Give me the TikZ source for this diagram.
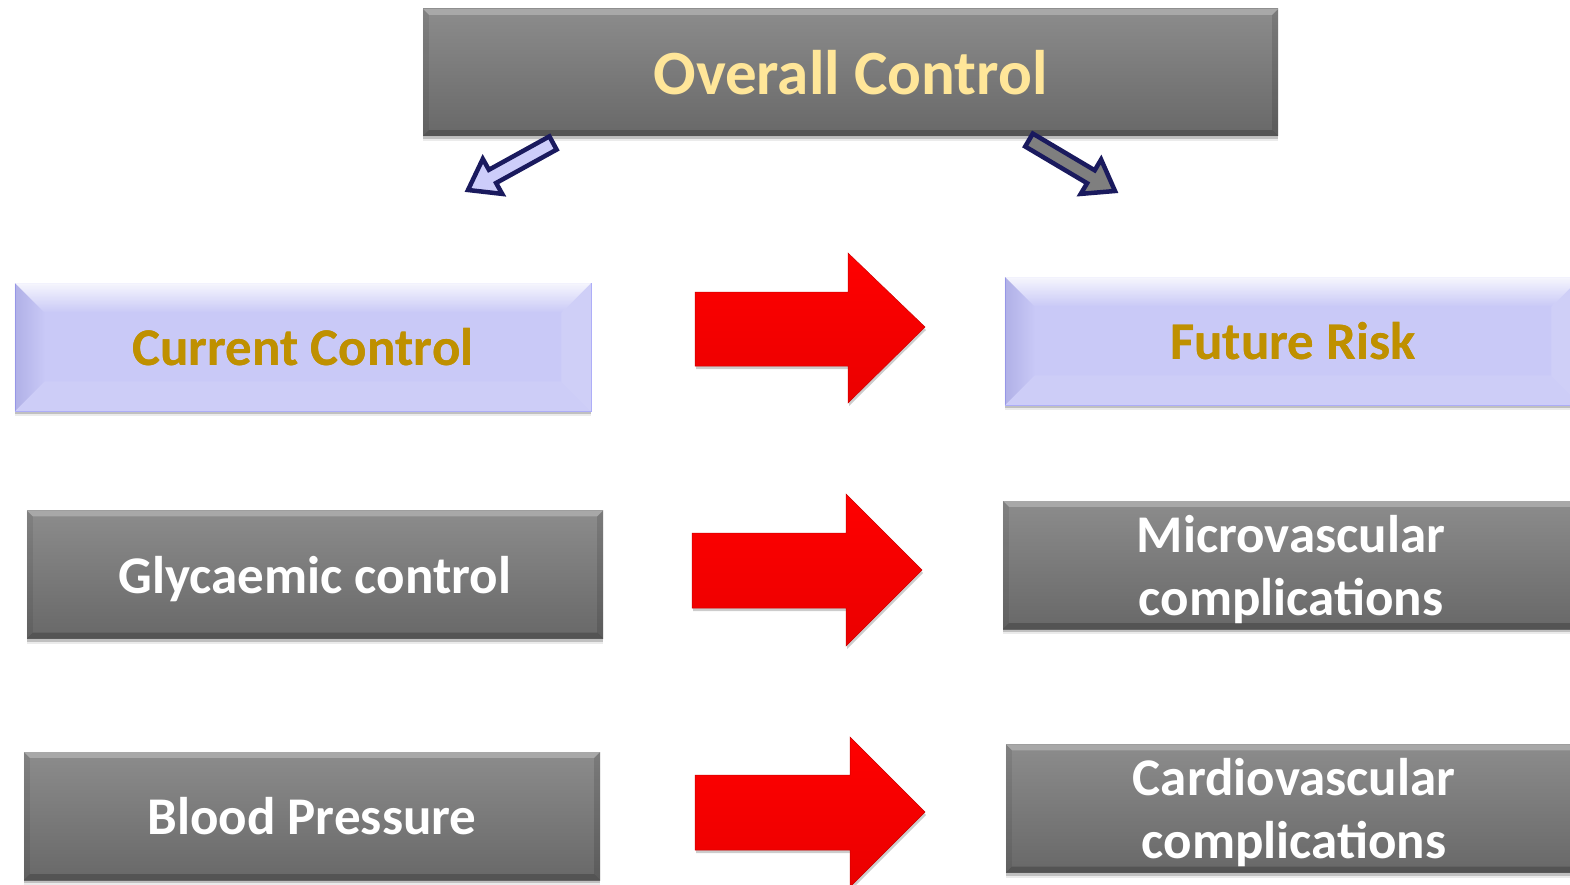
\documentclass[tikz,border=0pt]{standalone}
\usepackage{fontspec}
\setmainfont{Carlito}
\usetikzlibrary{shadows}
\definecolor{gtop}{HTML}{8C8C8C}
\definecolor{gbot}{HTML}{686868}
\definecolor{lav}{HTML}{C9C9F7}
\definecolor{gold}{HTML}{BF9000}
\definecolor{cream}{HTML}{FFE699}
\definecolor{navy}{HTML}{1A1A5E}
\definecolor{lavarrow}{HTML}{CDCDFA}
\definecolor{arrgray}{HTML}{7F7F7F}
\newcommand{\bevelbox}[7]{%
  \path[#4] (#1.north west) -- (#1.north east) -- ([xshift=-#2pt,yshift=-#3pt]#1.north east) -- ([xshift=#2pt,yshift=-#3pt]#1.north west) -- cycle;
  \path[#5] (#1.north west) -- ([xshift=#2pt,yshift=-#3pt]#1.north west) -- ([xshift=#2pt,yshift=#3pt]#1.south west) -- (#1.south west) -- cycle;
  \path[#6] (#1.north east) -- ([xshift=-#2pt,yshift=-#3pt]#1.north east) -- ([xshift=-#2pt,yshift=#3pt]#1.south east) -- (#1.south east) -- cycle;
  \path[#7] (#1.south west) -- ([xshift=#2pt,yshift=#3pt]#1.south west) -- ([xshift=-#2pt,yshift=#3pt]#1.south east) -- (#1.south east) -- cycle;
}
\begin{document}
\begin{tikzpicture}[x=1pt,y=-1pt,
  softshadow/.style={general shadow={shadow xshift=0pt, shadow yshift=-5pt, opacity=0.08, fill=black, scale=1.004},
                     general shadow={shadow xshift=0pt, shadow yshift=-3pt, opacity=0.18, fill=black}},
  boxbase/.style={rectangle, inner sep=0pt, minimum width=576pt, minimum height=128pt, align=center,
    text depth=0pt, font=\fontsize{53}{63}\selectfont\bfseries, softshadow},
  graybox/.style={boxbase, top color=gtop, bottom color=gbot, text=white},
  lavbox/.style={boxbase, fill=lav, draw=lav!85!blue, line width=0.5pt, text=gold},
  redarrow/.style={top color=red, bottom color=red!92!black, draw=red!80!black, line width=0.5pt,
    general shadow={shadow xshift=1pt, shadow yshift=-3pt, opacity=0.2, fill=black}},
  smallarrow/.style={draw=navy, line width=4.5pt, line join=miter}]
\clip (0,0) rectangle (1570,885);
\fill[white] (0,0) rectangle (1570,885);

% top box
\node[graybox, minimum width=855pt, minimum height=127pt, text=cream, font=\fontsize{63}{75}\selectfont\bfseries] (top) at (850.5,72.5) {Overall Control};
\bevelbox{top}{6}{6}{fill=white,opacity=0.25}{fill=black,opacity=0.08}{fill=black,opacity=0.12}{fill=black,opacity=0.2}

% small arrows
\path[smallarrow, fill=lavarrow] (556.6,149.6) -- (549.4,136.4) -- (488.9,169.8) -- (482.8,158.9) -- (468,190) -- (502.2,193.9) -- (496.1,183.0) -- cycle;
\path[smallarrow, fill=arrgray] (1025.2,146.5) -- (1032.8,133.6) -- (1094.7,170.3) -- (1101.1,159.5) -- (1115,191) -- (1080.7,193.9) -- (1087.1,183.2) -- cycle;

% lavender boxes
\node[lavbox] (cur) at (303,347) {Current Control};
\bevelbox{cur}{30}{30}{top color=white, bottom color=lav, opacity=0.85}{left color=blue!45!black, right color=lav, opacity=0.12}{fill=white,opacity=0.12}{fill=white,opacity=0.08}
\node[text=gold, font=\fontsize{53}{63}\selectfont\bfseries] at (cur) {Current Control};
\node[lavbox] (fut) at (1293,341) {Future Risk};
\bevelbox{fut}{30}{30}{top color=white, bottom color=lav, opacity=0.85}{left color=blue!45!black, right color=lav, opacity=0.12}{fill=white,opacity=0.12}{fill=white,opacity=0.08}
\node[text=gold, font=\fontsize{53}{63}\selectfont\bfseries] at (fut) {Future Risk};

% gray boxes
\node[graybox] (gly) at (315,574.5) {Glycaemic control};
\bevelbox{gly}{6}{6}{fill=white,opacity=0.25}{fill=black,opacity=0.08}{fill=black,opacity=0.12}{fill=black,opacity=0.2}
\node[graybox] (mic) at (1291,565) {Microvascular\\complications};
\bevelbox{mic}{6}{6}{fill=white,opacity=0.25}{fill=black,opacity=0.08}{fill=black,opacity=0.12}{fill=black,opacity=0.2}
\node[graybox] (bp) at (312,816) {Blood Pressure};
\bevelbox{bp}{6}{6}{fill=white,opacity=0.25}{fill=black,opacity=0.08}{fill=black,opacity=0.12}{fill=black,opacity=0.2}
\node[graybox] (car) at (1294,808.5) {Cardiovascular\\complications};
\bevelbox{car}{6}{6}{fill=white,opacity=0.25}{fill=black,opacity=0.08}{fill=black,opacity=0.12}{fill=black,opacity=0.2}

% red arrows
\path[redarrow] (695,292) -- (848,292) -- (848,253) -- (925,327) -- (848,403) -- (848,366) -- (695,366) -- cycle;
\path[redarrow] (692,533) -- (846,533) -- (846,494) -- (922,570) -- (846,646) -- (846,608) -- (692,608) -- cycle;
\path[redarrow] (695,775) -- (850,775) -- (850,737) -- (925,812) -- (850,887) -- (850,850) -- (695,850) -- cycle;
\end{tikzpicture}
\end{document}
